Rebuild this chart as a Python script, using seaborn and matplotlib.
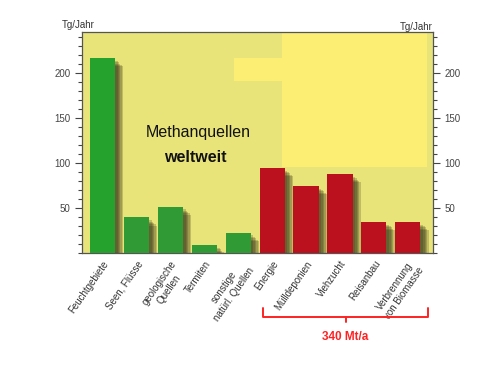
import matplotlib
matplotlib.use("Agg")
import matplotlib.pyplot as plt
import matplotlib.patheffects as pe
import matplotlib.ticker as ticker
import matplotlib.transforms as mtrans
from matplotlib.patches import Rectangle
import seaborn as sns

# data (Tg/Jahr)
categories = ["Feuchtgebiete", "Seen, Flüsse", "geologische\nQuellen", "Termiten",
              "sonstige\nnatürl. Quellen", "Energie", "Mülldeponien", "Viehzucht",
              "Reisanbau", "Verbrennung\nvon Biomasse"]
values = [217, 40, 52, 9, 23, 95, 75, 88, 35, 35]
colors = ["#25a12d", "#309a34", "#309a34", "#309a34", "#309a34",
          "#bb111f", "#bb111f", "#bb111f", "#bb111f", "#bb111f"]
y_ticks = [50, 100, 150, 200]


def main():
    sns.set_theme(style="white")
    plt.rcParams['font.family'] = ['Liberation Sans', 'DejaVu Sans']

    fig = plt.figure(figsize=(5, 3.75), dpi=100)
    ax = fig.add_axes([0.164, 0.3245, 0.702, 0.590])
    ax.set_facecolor("#e8e479")

    sns.barplot(x=categories, y=values, hue=categories, palette=colors,
                legend=False, width=0.74, saturation=1, ax=ax, zorder=3,
                edgecolor="none", linewidth=0)
    # soft drop shadow, layered to fake a blur
    shadow = [pe.SimplePatchShadow(offset=(d, -d), shadow_rgbFace="#2e2e14", alpha=0.22)
              for d in (6, 5, 4, 3, 2)]
    for bar in ax.patches:
        bar.set_path_effects(shadow + [pe.Normal()])

    # lighter yellow blocks in the background
    ax.add_patch(Rectangle((0.570, 0.39), 0.413, 0.61, transform=ax.transAxes,
                           color="#fbee72", zorder=0, lw=0))
    ax.add_patch(Rectangle((0.433, 0.779), 0.137, 0.105, transform=ax.transAxes,
                           color="#fbee72", zorder=0, lw=0))

    ax.set_xlim(-0.6, 9.74)
    ax.set_ylim(0, 246)
    ax.set_xlabel("")
    ax.set_ylabel("")

    ax.yaxis.set_major_locator(ticker.FixedLocator(y_ticks))
    ax.yaxis.set_minor_locator(ticker.MultipleLocator(10))
    ax.tick_params(axis="y", which="both", left=True, right=True, labelleft=True,
                   labelright=True, direction="out", colors="#444444", labelsize=7)
    ax.tick_params(axis="y", which="major", length=5, width=0.8)
    ax.tick_params(axis="y", which="minor", length=3, width=0.8)
    ax.tick_params(axis="x", length=0, pad=4)

    ax.set_xticks(range(len(categories)))
    ax.set_xticklabels(categories, rotation=55, ha="right", va="top",
                       rotation_mode="anchor", fontsize=7, color="#333333",
                       multialignment="center")

    for side in ["left", "right", "bottom", "top"]:
        ax.spines[side].set_visible(True)
        ax.spines[side].set_color("#555555")
        ax.spines[side].set_linewidth(0.9)

    ax.text(-0.057, 1.03, "Tg/Jahr", transform=ax.transAxes, fontsize=7,
            color="#333333", va="center")
    ax.text(0.906, 1.022, "Tg/Jahr", transform=ax.transAxes, fontsize=7,
            color="#333333", va="center")

    ax.text(0.33, 0.544, "Methanquellen", transform=ax.transAxes, fontsize=11.5,
            ha="center", va="center", color="#111111")
    ax.text(0.323, 0.435, "weltweit", transform=ax.transAxes, fontsize=11.5,
            fontweight="bold", ha="center", va="center", color="#111111")

    # red brace under the anthropogenic sources
    tr = mtrans.blended_transform_factory(ax.transData, ax.transAxes)
    red = "#ff2222"
    x0, x1 = 4.73, 9.6
    xc = (x0 + x1) / 2
    ax.plot([x0, x0, x1, x1], [-0.247, -0.288, -0.288, -0.247], color=red, lw=1.4,
            transform=tr, clip_on=False, solid_joinstyle="round")
    ax.plot([xc, xc], [-0.288, -0.31], color=red, lw=1.4, transform=tr, clip_on=False)
    ax.text(xc, -0.378, "340 Mt/a", color=red, fontsize=8.5, fontweight="bold",
            ha="center", va="center", transform=tr)

    plt.savefig("out.png", dpi=100)


if __name__ == "__main__":
    main()
